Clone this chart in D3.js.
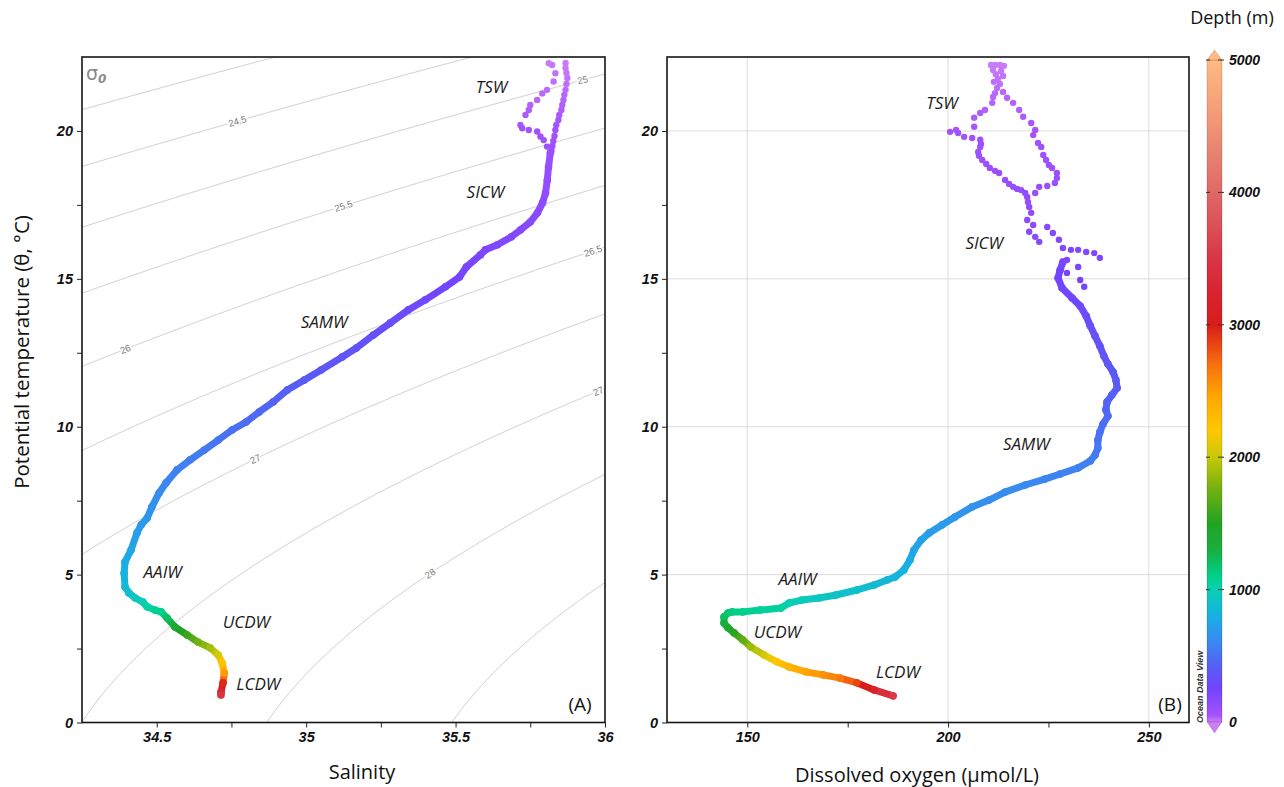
<!DOCTYPE html>
<html>
<head>
<meta charset="utf-8">
<script src="https://cdn.jsdelivr.net/npm/d3@7"></script>
<style>
  body { margin: 0; background: #fff; }
  svg { display: block; }
  .tick text { font-family: "Liberation Sans", Arial, sans-serif; font-weight: bold; font-style: italic; font-size: 14.5px; fill: #111; }
  .tick line { stroke: #222; stroke-width: 1; }
  .title { font-family: "Open Sans", "Noto Sans", sans-serif; fill: #111; }
  .mass { font-family: "Open Sans", "Noto Sans", sans-serif; font-style: italic; font-size: 17px; fill: #1a1a1a; }
</style>
</head>
<body>
<svg id="chart" width="1284" height="787"></svg>
<script>
// ---------- depth colour scale ----------
const depthStops  = [0, 50, 250, 400, 600, 800, 1000, 1100, 1300, 1500, 1750, 2000, 2200, 2450, 2700, 3000, 3250, 3500, 3750, 4000, 4500, 5000];
const depthColors = ["#cc7ef8", "#a452fd", "#7444ff", "#5a5af5", "#3a88f0", "#18b0e4", "#08d0b0", "#00d08c", "#18b040", "#22a222", "#70b010", "#c8c808", "#ffc800", "#ffa800", "#f87010", "#d81c18", "#d82430", "#d83545", "#dc5058", "#e06868", "#f09474", "#ffba82"];
const colorbarTicks = [0, 1000, 2000, 3000, 4000, 5000];

// ---------- axis ticks ----------
const salinityTicks = [34.5, 35, 35.5, 36];
const salinityMinor = [34.75, 35.25, 35.75];
const thetaTicks = [0, 5, 10, 15, 20];
const thetaMinor = [2.5, 7.5, 12.5, 17.5];
const oxygenTicks = [150, 200, 250];
const oxygenMinor = [175, 225];

// ---------- isopycnals (sigma-0) ----------
const isoLevels = [24, 24.5, 25, 25.5, 26, 26.5, 27, 27.5, 28, 28.5];
const isoLabelLevels = [24.5, 25, 25.5, 26, 26.5, 27, 27.5, 28];
const isoLabelSalinity = [34.77, 35.925, 35.125, 34.395, 35.96, 34.83, 35.99, 35.415];

// ---------- panel A: theta-S profile ----------
// sparse near-surface samples (TSW loop)
const tsDotSalinity = [35.868, 35.868, 35.871, 35.874, 35.871, 35.868, 35.864, 35.861, 35.857, 35.854, 35.847, 35.844, 35.837, 35.834, 35.831, 35.827, 35.824, 35.821,
                       35.812, 35.823, 35.834, 35.828, 35.806, 35.790, 35.773, 35.750, 35.745, 35.734, 35.717, 35.723, 35.745, 35.773, 35.784, 35.795, 35.806];
const tsDotTheta    = [22.30, 22.13, 21.96, 21.79, 21.59, 21.39, 21.22, 21.05, 20.88, 20.71, 20.54, 20.37, 20.20, 20.03, 19.83, 19.66, 19.49, 19.32,
                       22.29, 22.23, 21.95, 21.67, 21.39, 21.27, 21.05, 20.88, 20.71, 20.54, 20.20, 20.09, 20.03, 19.98, 19.81, 19.69, 19.47];
const tsDotDepth    = [2, 6, 10, 14, 18, 22, 26, 30, 34, 38, 42, 46, 50, 55, 60, 66, 72, 80,
                       4, 8, 12, 16, 20, 24, 28, 32, 36, 40, 45, 50, 55, 60, 65, 70, 78];
// continuous profile below the surface layer
const tsSalinity = [35.817, 35.811, 35.807, 35.801, 35.791, 35.774, 35.750, 35.717, 35.687, 35.640, 35.600, 35.583, 35.536, 35.513, 35.466, 35.399, 35.342,
                    35.282, 35.225, 35.168, 35.121, 35.050, 34.994, 34.937, 34.890, 34.843, 34.799, 34.752, 34.706, 34.659, 34.612, 34.568, 34.531, 34.508,
                    34.484, 34.468, 34.448, 34.434, 34.414, 34.394, 34.391, 34.394, 34.407, 34.428, 34.454, 34.468, 34.494, 34.515, 34.535, 34.561, 34.602,
                    34.638, 34.679, 34.706, 34.719, 34.726, 34.722, 34.715, 34.715];
const tsTheta    = [19.26, 18.78, 18.34, 17.90, 17.57, 17.23, 16.92, 16.65, 16.42, 16.15, 15.98, 15.81, 15.40, 15.06, 14.73, 14.29, 13.95,
                    13.51, 13.10, 12.66, 12.36, 11.92, 11.58, 11.24, 10.84, 10.50, 10.16, 9.89, 9.55, 9.21, 8.88, 8.54, 8.10, 7.76,
                    7.29, 6.91, 6.68, 6.41, 5.83, 5.43, 5.05, 4.58, 4.38, 4.21, 4.07, 3.91, 3.80, 3.74, 3.53, 3.23, 2.96,
                    2.72, 2.52, 2.28, 2.01, 1.67, 1.34, 1.03, 0.93];
const tsDepth    = [90, 105, 120, 135, 150, 160, 170, 180, 190, 200, 210, 215, 230, 245, 260, 275, 290,
                    310, 330, 350, 365, 385, 400, 420, 440, 460, 480, 495, 515, 535, 555, 575, 600, 620,
                    650, 675, 690, 710, 750, 780, 820, 870, 900, 940, 980, 1030, 1070, 1100, 1200, 1400, 1580,
                    1750, 1900, 2050, 2250, 2500, 2950, 3300, 3500];

// ---------- panel B: theta-oxygen profile ----------
const oxDotOxygen = [210.7, 211.7, 212.9, 213.9, 211.2, 213.2, 211.9, 213.7, 212.4, 211.4, 212.9, 212.2, 211.7, 211.2, 211.0,
                     209.2, 208.0, 206.5, 206.5, 202.0, 200.5, 202.5, 204.0, 206.0, 208.0, 208.2, 208.0, 207.5, 207.7, 208.5, 209.5, 210.4,
                     211.7, 212.7, 214.2, 215.2, 216.2, 217.2, 218.2, 219.2, 219.7, 219.9, 220.2, 220.7, 219.7, 221.2, 220.2,
                     213.7, 214.7, 216.2, 217.7, 218.7, 220.7, 221.7, 221.2, 222.4, 223.2, 223.7, 224.4, 225.1, 225.9, 227.1, 227.1, 226.6,
                     224.7, 222.7, 221.7,
                     221.7, 222.7, 224.7, 226.1, 227.6, 228.6, 230.6, 232.4, 234.4, 236.4, 237.8, 229.6, 232.4, 229.6, 232.9, 233.9];
const oxDotTheta  = [22.23, 22.23, 22.23, 22.20, 22.06, 22.03, 21.92, 21.86, 21.76, 21.66, 21.59, 21.45, 21.28, 21.15, 20.95,
                     20.71, 20.61, 20.45, 20.14, 20.03, 19.97, 19.93, 19.80, 19.76, 19.70, 19.56, 19.46, 19.29, 19.16, 19.02, 18.88, 18.75,
                     18.65, 18.58, 18.34, 18.21, 18.11, 18.04, 18.00, 17.90, 17.77, 17.60, 17.43, 17.23, 16.99, 16.82, 16.59,
                     21.32, 21.12, 20.95, 20.71, 20.48, 20.27, 20.03, 19.86, 19.59, 19.46, 19.19, 19.02, 18.85, 18.75, 18.58, 18.41, 18.24,
                     18.14, 18.11, 17.90,
                     16.42, 16.25, 16.75, 16.55, 16.32, 16.04, 15.98, 15.98, 15.91, 15.87, 15.71, 15.64, 15.40, 15.20, 14.96, 14.73];
const oxDotDepth  = [2, 3, 4, 5, 7, 8, 10, 12, 14, 16, 18, 20, 23, 26, 30,
                     34, 37, 40, 44, 48, 50, 52, 55, 58, 61, 64, 67, 70, 73, 76, 80, 84,
                     88, 92, 96, 100, 104, 108, 112, 116, 120, 125, 130, 140, 150, 160, 170,
                     24, 28, 32, 36, 40, 44, 48, 52, 58, 62, 68, 72, 76, 80, 85, 90, 95,
                     100, 104, 110,
                     180, 185, 170, 178, 186, 195, 198, 200, 202, 205, 208, 210, 225, 238, 248, 258];
const oxOxygen = [228.6, 227.9, 227.4, 228.4, 230.9, 232.9, 234.4, 235.4, 236.6, 237.8, 238.8, 239.8, 241.1, 241.8, 242.1, 240.8, 239.6, 239.3,
                  239.8, 238.6, 237.8, 237.3, 237.3, 236.6, 235.4, 232.4, 227.9, 224.1, 219.2, 214.2, 210.2, 206.0, 201.7, 198.5, 195.3, 193.3,
                  191.5, 190.5, 189.0, 186.8, 184.8, 181.6, 177.3, 172.1, 167.9, 163.6, 160.4, 158.4, 153.2, 148.9, 146.2, 145.2, 144.2, 144.2,
                  145.2, 146.7, 148.9, 150.9, 154.2, 157.4, 160.4, 164.6, 168.9, 173.1, 177.3, 181.6, 186.3];
const oxTheta  = [15.57, 15.30, 15.03, 14.69, 14.35, 14.08, 13.74, 13.41, 13.07, 12.73, 12.39, 12.12, 11.85, 11.58, 11.31, 11.07, 10.84, 10.57,
                  10.36, 10.09, 9.82, 9.55, 9.28, 9.04, 8.84, 8.61, 8.40, 8.23, 8.03, 7.79, 7.52, 7.29, 6.95, 6.68, 6.41, 6.17,
                  5.83, 5.49, 5.16, 4.92, 4.82, 4.65, 4.48, 4.31, 4.21, 4.14, 4.04, 3.87, 3.80, 3.74, 3.74, 3.70, 3.57, 3.36,
                  3.20, 3.03, 2.79, 2.55, 2.28, 2.05, 1.88, 1.71, 1.61, 1.50, 1.34, 1.10, 0.90];
const oxDepth  = [215, 235, 245, 260, 272, 283, 300, 315, 330, 345, 362, 375, 388, 400, 415, 428, 440, 455,
                  468, 483, 500, 515, 530, 545, 557, 570, 583, 593, 605, 620, 635, 650, 672, 690, 710, 725,
                  750, 775, 808, 830, 845, 860, 885, 915, 940, 960, 990, 1040, 1070, 1100, 1120, 1150, 1200, 1320,
                  1420, 1530, 1700, 1880, 2050, 2220, 2350, 2470, 2550, 2650, 2850, 3200, 3550];

// ---------- water mass names ----------
const massNamesA = ["TSW", "SICW", "SAMW", "AAIW", "UCDW", "LCDW"];
const massSalA   = [35.62, 35.60, 35.06, 34.52, 34.80, 34.84];
const massThetaA = [21.48, 17.95, 13.54, 5.08, 3.39, 1.30];
const massNamesB = ["TSW", "SICW", "SAMW", "AAIW", "UCDW", "LCDW"];
const massOxB    = [198.5, 209.0, 219.5, 162.5, 157.5, 187.5];
const massThetaB = [20.95, 16.22, 9.40, 4.85, 3.05, 1.70];

// ---------- layout ----------
const svg = d3.select("#chart");
const plotTop = 57, plotBottom = 722.5;
const tScale = d3.scaleLinear([0, 22.5], [plotBottom, plotTop]);
const sScale = d3.scaleLinear([34.25, 36], [82, 605]);
const oScale = d3.scaleLinear([130, 260], [667, 1189]);
const depthColour = d3.scaleLinear().domain(depthStops).range(depthColors).interpolate(d3.interpolateRgb).clamp(true);

const defs = svg.append("defs");
defs.append("clipPath").attr("id", "clipA").append("rect")
  .attr("x", 82).attr("y", plotTop).attr("width", 605 - 82).attr("height", plotBottom - plotTop);
defs.append("clipPath").attr("id", "clipB").append("rect")
  .attr("x", 667).attr("y", plotTop).attr("width", 1189 - 667).attr("height", plotBottom - plotTop);

// UNESCO one-atmosphere density, returned as sigma-0
function sigma0(S, T) {
  const rw = 999.842594 + 6.793952e-2 * T - 9.095290e-3 * T * T + 1.001685e-4 * T ** 3 - 1.120083e-6 * T ** 4 + 6.536332e-9 * T ** 5;
  const A = 8.24493e-1 - 4.0899e-3 * T + 7.6438e-5 * T * T - 8.2467e-7 * T ** 3 + 5.3875e-9 * T ** 4;
  const B = -5.72466e-3 + 1.0227e-4 * T - 1.6546e-6 * T * T;
  return rw + A * S + B * Math.pow(S, 1.5) + 4.8314e-4 * S * S - 1000;
}
function thetaOnIsopycnal(S, level) {
  let lo = -2, hi = 34;
  if (sigma0(S, lo) < level || sigma0(S, hi) > level) return null;
  for (let i = 0; i < 50; i++) {
    const m = (lo + hi) / 2;
    if (sigma0(S, m) > level) lo = m; else hi = m;
  }
  return (lo + hi) / 2;
}

// ================= Panel A =================
const gA = svg.append("g");
const isoG = gA.append("g").attr("clip-path", "url(#clipA)");
const sSamples = d3.range(34.0, 36.3, 0.002);
const isoLine = d3.line().defined(d => d[1] !== null).x(d => sScale(d[0])).y(d => tScale(d[1]));
isoLevels.forEach(level => {
  const pts = sSamples.map(S => [S, thetaOnIsopycnal(S, level)]);
  isoG.append("path").attr("d", isoLine(pts))
    .attr("fill", "none").attr("stroke", "#b4b4b4").attr("stroke-width", 0.7);
});
isoLabelLevels.forEach((level, i) => {
  const S = isoLabelSalinity[i];
  const T = thetaOnIsopycnal(S, level);
  const Ta = thetaOnIsopycnal(S - 0.01, level), Tb = thetaOnIsopycnal(S + 0.01, level);
  const ang = Math.atan2(tScale(Tb) - tScale(Ta), sScale(S + 0.01) - sScale(S - 0.01)) * 180 / Math.PI;
  isoG.append("text")
    .attr("transform", `translate(${sScale(S)},${tScale(T)}) rotate(${ang})`)
    .attr("text-anchor", "middle").attr("dy", "0.35em")
    .attr("font-family", "Liberation Sans, Arial, sans-serif").attr("font-size", 9.5)
    .attr("fill", "#7a7a7a").attr("stroke", "#fff").attr("stroke-width", 3).attr("paint-order", "stroke")
    .text(String(level));
});

// sigma-0 tag
const sigTag = gA.append("text").attr("x", 86).attr("y", 80).attr("fill", "#8a8a8a")
  .attr("font-family", "DejaVu Sans, sans-serif");
sigTag.append("tspan").attr("font-size", 19).text("σ");
sigTag.append("tspan").attr("font-size", 12).attr("font-style", "italic").attr("font-weight", "bold").attr("dy", 3).text("0");

function drawProfile(g, xs, ys, depths, xScale, width) {
  for (let i = 0; i < xs.length - 1; i++) {
    g.append("line")
      .attr("x1", xScale(xs[i])).attr("y1", tScale(ys[i]))
      .attr("x2", xScale(xs[i + 1])).attr("y2", tScale(ys[i + 1]))
      .attr("stroke", depthColour((depths[i] + depths[i + 1]) / 2))
      .attr("stroke-width", width).attr("stroke-linecap", "round");
  }
  xs.forEach((x, i) => g.append("circle")
    .attr("cx", xScale(x)).attr("cy", tScale(ys[i])).attr("r", width / 2 + 0.3)
    .attr("fill", depthColour(depths[i])));
}
function drawDots(g, xs, ys, depths, xScale) {
  xs.forEach((x, i) => g.append("circle")
    .attr("cx", xScale(x)).attr("cy", tScale(ys[i])).attr("r", 3.2)
    .attr("fill", depthColour(depths[i])));
}

const dataA = gA.append("g").attr("clip-path", "url(#clipA)");
drawDots(dataA, tsDotSalinity, tsDotTheta, tsDotDepth, sScale);
drawProfile(dataA, tsSalinity, tsTheta, tsDepth, sScale, 7);

massNamesA.forEach((n, i) => gA.append("text").attr("class", "mass")
  .attr("x", sScale(massSalA[i])).attr("y", tScale(massThetaA[i]))
  .attr("text-anchor", "middle").attr("dy", "0.35em").text(n));

gA.append("text").attr("class", "title").attr("x", 580).attr("y", 704).attr("dy", "0.35em")
  .attr("text-anchor", "middle").attr("font-size", 19).text("(A)");

// frame and axes
gA.append("rect").attr("x", 82).attr("y", plotTop).attr("width", 605 - 82).attr("height", plotBottom - plotTop)
  .attr("fill", "none").attr("stroke", "#151515").attr("stroke-width", 1.6);
function styleAxis(sel) { sel.select(".domain").remove(); }
gA.append("g").attr("transform", `translate(0,${plotBottom})`)
  .call(d3.axisBottom(sScale).tickValues(salinityTicks).tickSize(5).tickPadding(4).tickFormat(d => String(d))).call(styleAxis);
gA.append("g").attr("transform", `translate(0,${plotBottom})`)
  .call(d3.axisBottom(sScale).tickValues(salinityMinor).tickSize(5).tickFormat("")).call(styleAxis);
gA.append("g").attr("transform", "translate(82,0)")
  .call(d3.axisLeft(tScale).tickValues(thetaTicks).tickSize(5).tickPadding(4).tickFormat(d => String(d))).call(styleAxis);
gA.append("g").attr("transform", "translate(82,0)")
  .call(d3.axisLeft(tScale).tickValues(thetaMinor).tickSize(5).tickFormat("")).call(styleAxis);

svg.append("text").attr("class", "title").attr("x", 362).attr("y", 772).attr("dy", "0.35em")
  .attr("text-anchor", "middle").attr("font-size", 20).text("Salinity");
svg.append("text").attr("class", "title").attr("transform", "translate(22,352) rotate(-90)")
  .attr("dy", "0.35em").attr("text-anchor", "middle").attr("font-size", 20.5).text("Potential temperature (θ, °C)");

// ================= Panel B =================
const gB = svg.append("g");
const gridB = gB.append("g");
oxygenTicks.forEach(v => gridB.append("line").attr("x1", oScale(v)).attr("x2", oScale(v))
  .attr("y1", plotTop).attr("y2", plotBottom).attr("stroke", "#dcdcdc").attr("stroke-width", 1));
thetaTicks.filter(v => v > 0).forEach(v => gridB.append("line").attr("x1", 667).attr("x2", 1189)
  .attr("y1", tScale(v)).attr("y2", tScale(v)).attr("stroke", "#dcdcdc").attr("stroke-width", 1));

const dataB = gB.append("g").attr("clip-path", "url(#clipB)");
drawDots(dataB, oxDotOxygen, oxDotTheta, oxDotDepth, oScale);
drawProfile(dataB, oxOxygen, oxTheta, oxDepth, oScale, 7);

massNamesB.forEach((n, i) => gB.append("text").attr("class", "mass")
  .attr("x", oScale(massOxB[i])).attr("y", tScale(massThetaB[i]))
  .attr("text-anchor", "middle").attr("dy", "0.35em").text(n));

gB.append("text").attr("class", "title").attr("x", 1170).attr("y", 704).attr("dy", "0.35em")
  .attr("text-anchor", "middle").attr("font-size", 19).text("(B)");

gB.append("rect").attr("x", 667).attr("y", plotTop).attr("width", 1189 - 667).attr("height", plotBottom - plotTop)
  .attr("fill", "none").attr("stroke", "#151515").attr("stroke-width", 1.6);
gB.append("g").attr("transform", `translate(0,${plotBottom})`)
  .call(d3.axisBottom(oScale).tickValues(oxygenTicks).tickSize(5).tickPadding(4).tickFormat(d => String(d))).call(styleAxis);
gB.append("g").attr("transform", `translate(0,${plotBottom})`)
  .call(d3.axisBottom(oScale).tickValues(oxygenMinor).tickSize(5).tickFormat("")).call(styleAxis);
gB.append("g").attr("transform", "translate(667,0)")
  .call(d3.axisLeft(tScale).tickValues(thetaTicks).tickSize(5).tickPadding(4).tickFormat(d => String(d))).call(styleAxis);
gB.append("g").attr("transform", "translate(667,0)")
  .call(d3.axisLeft(tScale).tickValues(thetaMinor).tickSize(5).tickFormat("")).call(styleAxis);

svg.append("text").attr("class", "title").attr("x", 917).attr("y", 775).attr("dy", "0.35em")
  .attr("text-anchor", "middle").attr("font-size", 20).text("Dissolved oxygen (µmol/L)");

// ================= Colour bar =================
const cbX = 1207, cbW = 15;
const dScale = d3.scaleLinear([0, 5000], [722, 60]);
const grad = defs.append("linearGradient").attr("id", "depthGrad")
  .attr("x1", 0).attr("y1", 1).attr("x2", 0).attr("y2", 0);
depthStops.forEach((d, i) => grad.append("stop").attr("offset", d / 5000).attr("stop-color", depthColors[i]));
const cb = svg.append("g");
cb.append("rect").attr("x", cbX).attr("y", dScale(5000)).attr("width", cbW).attr("height", dScale(0) - dScale(5000))
  .attr("fill", "url(#depthGrad)").attr("stroke", "rgba(0,0,0,0.25)").attr("stroke-width", 0.6);
cb.append("path").attr("d", `M${cbX},${dScale(5000)} L${cbX + cbW},${dScale(5000)} L${cbX + cbW / 2},${dScale(5000) - 10} Z`)
  .attr("fill", depthColors[depthColors.length - 1]).attr("stroke", "rgba(0,0,0,0.25)").attr("stroke-width", 0.6);
cb.append("path").attr("d", `M${cbX},${dScale(0)} L${cbX + cbW},${dScale(0)} L${cbX + cbW / 2},${dScale(0) + 11} Z`)
  .attr("fill", depthColors[0]).attr("stroke", "rgba(0,0,0,0.2)").attr("stroke-width", 0.6);
colorbarTicks.forEach(d => {
  const y = dScale(d);
  if (d > 0) {
    cb.append("line").attr("x1", cbX - 1).attr("x2", cbX + 3).attr("y1", y).attr("y2", y).attr("stroke", "#333").attr("stroke-width", 1);
    cb.append("line").attr("x1", cbX + cbW - 4).attr("x2", cbX + cbW + 2).attr("y1", y).attr("y2", y).attr("stroke", "#333").attr("stroke-width", 1);
  }
  cb.append("text").attr("x", 1229).attr("y", y).attr("dy", "0.35em")
    .attr("font-family", "Liberation Sans, Arial, sans-serif").attr("font-weight", "bold").attr("font-style", "italic")
    .attr("font-size", 14).attr("fill", "#111").text(String(d));
});
svg.append("text").attr("class", "title").attr("x", 1232).attr("y", 18).attr("dy", "0.35em")
  .attr("text-anchor", "middle").attr("font-size", 18).text("Depth (m)");
svg.append("text").attr("transform", "translate(1203,723) rotate(-90)")
  .attr("font-family", "Liberation Sans, Arial, sans-serif").attr("font-weight", "bold").attr("font-style", "italic")
  .attr("font-size", 9).attr("fill", "#333").text("Ocean Data View");
</script>
</body>
</html>
